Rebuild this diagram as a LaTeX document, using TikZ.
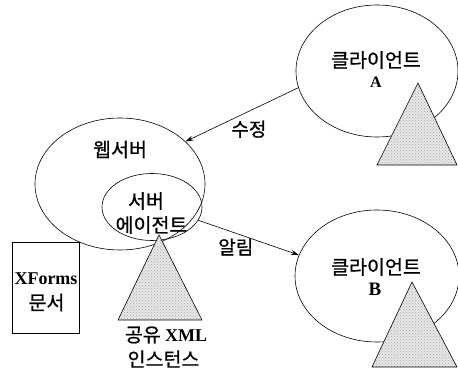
\documentclass[tikz,border=0pt]{standalone}
\usepackage{fontspec}
\setmainfont{Liberation Serif}
\newfontfamily\kr[FakeBold=0.8]{Noto Sans CJK KR}
\usetikzlibrary{shapes.geometric,arrows.meta,patterns}
\begin{document}
\begin{tikzpicture}[x=1pt,y=-1pt,
  blob/.style={draw, ellipse, inner sep=0pt, line width=0.6pt},
  krtext/.style={font=\kr\fontsize{19.5}{22}\selectfont, inner sep=0pt},
  latin/.style={font=\bfseries\fontsize{18}{20}\selectfont, inner sep=0pt},
  tri/.style={draw, line width=0.6pt, preaction={fill=black!9},
    pattern=crosshatch dots, pattern color=black!35},
  link/.style={draw, line width=0.6pt, -{Stealth[length=8pt,width=5pt]}},
  tag/.style={font=\kr\fontsize{19}{21}\selectfont, inner sep=0pt, anchor=north}]
\useasboundingbox (0,0) rectangle (458,371);

% client A with its instance
\node[blob, minimum width=162pt, minimum height=132pt] (cA) at (377,71) {};
\node[krtext] (cAname) at (376,60) {클라이언트};
\node[latin, font=\bfseries\fontsize{16}{18}\selectfont] (cAid) at (376,82.5) {A};
\path[tri] (418,83) -- (377,165) -- (457,165) -- cycle;

% web server with its agent
\node[blob, minimum width=170pt, minimum height=132pt] (ws) at (120,184) {};
\node[krtext] (wsname) at (120,149.5) {웹서버};
\node[blob, minimum width=100pt, minimum height=67pt] (ag) at (152,207) {};
\node[krtext] (agname1) at (146,201) {서버};
\node[krtext] (agname2) at (151.5,225) {에이전트};
\path[tri] (159,235) -- (118,320) -- (202,320) -- cycle;
\node[krtext] (xml1) at (166,335) {공유 {\rmfamily\bfseries\fontsize{18}{20}\selectfont XML}};
\node[krtext] (xml2) at (163.5,359) {인스턴스};

% XForms document
\node[draw, line width=0.6pt, minimum width=67pt, minimum height=91pt, inner sep=0pt] (doc) at (45.5,287.5) {};
\node[latin] (docname1) at (46,279) {XForms};
\node[krtext] (docname2) at (46.5,302.5) {문서};

% client B with its instance
\node[blob, minimum width=164pt, minimum height=132pt] (cB) at (377,276) {};
\node[krtext] (cBname) at (376,267) {클라이언트};
\node[latin, font=\bfseries\fontsize{19}{21}\selectfont] (cBid) at (375,289) {B};
\path[tri] (412,282) -- (372,367) -- (457,367) -- cycle;

% update and notification
\draw[link] (cA.192) -- node[tag, pos=0.438, yshift=-9pt] (upd) {수정} (ws.33);
\draw[link] (ag.344) -- node[tag, pos=0.373, yshift=-5pt] (ntf) {알림} (cB.165);
\end{tikzpicture}
\end{document}
